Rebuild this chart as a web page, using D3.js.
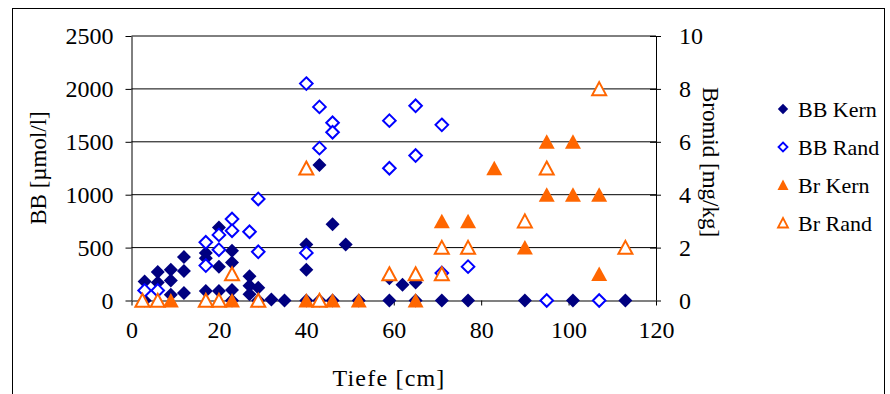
<!DOCTYPE html>
<html>
<head>
<meta charset="utf-8">
<script src="https://cdn.jsdelivr.net/npm/d3@7"></script>
<style>
  body { margin: 0; background: #fff; }
  svg text { font-family: "Liberation Serif", "Times New Roman", Times, serif; fill: #000; }
</style>
</head>
<body>
<div id="chart"></div>
<script>
// depth [cm] and values
var bbKernDepth = [3, 3, 6, 6, 9, 9, 9, 12, 12, 12, 17, 17, 17, 20, 20, 20, 23, 23, 23, 23, 27, 27, 27, 29, 29, 32, 35, 40, 40, 40, 43, 43, 46, 46, 49, 52, 59, 59, 62, 65, 65, 71, 77, 90, 101, 113];
var bbKernValue = [180, 0, 270, 170, 290, 190, 55, 410, 280, 70, 450, 400, 90, 690, 320, 90, 470, 360, 100, 0, 230, 140, 60, 120, 0, 10, 0, 530, 290, 0, 1280, 0, 720, 0, 530, 0, 210, 0, 150, 170, 0, 0, 0, 0, 0, 0];

var bbRandDepth = [3, 6, 17, 17, 20, 20, 23, 23, 27, 29, 29, 40, 40, 43, 43, 46, 46, 59, 59, 65, 65, 71, 71, 77, 95, 107];
var bbRandValue = [95, 95, 550, 330, 620, 480, 770, 660, 650, 960, 460, 2050, 450, 1830, 1440, 1680, 1590, 1700, 1250, 1840, 1370, 1660, 260, 320, 0, 0];

var brKernDepth = [9, 23, 40, 46, 52, 65, 71, 77, 83, 90, 95, 95, 101, 101, 107, 107];
var brKernValue = [0, 0, 0, 0, 0, 0, 3, 3, 5, 2, 6, 4, 6, 4, 4, 1];

var brRandDepth = [2.5, 6, 17, 20, 23, 29, 40, 43, 59, 65, 71, 71, 77, 90, 95, 107, 113];
var brRandValue = [0, 0, 0, 0, 1, 0, 5, 0, 1, 1, 2, 1, 2, 3, 5, 8, 2];

var xTicks = [0, 20, 40, 60, 80, 100, 120];
var leftTicks = [0, 500, 1000, 1500, 2000, 2500];
var rightTicks = [0, 2, 4, 6, 8, 10];

var fontFamily = '"Liberation Serif", "Times New Roman", Times, serif';

var svgWidth = 890, svgHeight = 394;
var margin = { top: 36, bottom: 93.5, left: 131.5, right: 234 };
var chartWidth = svgWidth - margin.left - margin.right;
var chartHeight = svgHeight - margin.top - margin.bottom;

var svg = d3.select("#chart").append("svg")
    .attr("width", svgWidth)
    .attr("height", svgHeight)
    .attr("font-family", fontFamily);

// outer frame
svg.append("rect")
    .attr("x", 12.5).attr("y", 8.5)
    .attr("width", 872).attr("height", 400)
    .attr("fill", "#fff").attr("stroke", "#000").attr("stroke-width", 1);

var chartGroup = svg.append("g")
    .attr("transform", `translate(${margin.left}, ${margin.top})`);

var xScale = d3.scaleLinear().domain([0, 120]).range([0, chartWidth]);
var yLeft = d3.scaleLinear().domain([0, 2500]).range([chartHeight, 0]);
var yRight = d3.scaleLinear().domain([0, 10]).range([chartHeight, 0]);

// gridlines
chartGroup.selectAll(".grid")
    .data(leftTicks.filter(d => d > 0))
    .enter().append("line")
    .attr("x1", 0).attr("x2", chartWidth)
    .attr("y1", d => yLeft(d)).attr("y2", d => yLeft(d))
    .attr("stroke", "#000").attr("stroke-width", 1);

function styleAxis(g) {
    g.attr("font-family", fontFamily).attr("font-size", 24);
    g.select(".domain").attr("stroke", "#000");
    g.selectAll("text").attr("fill", "#000");
}

// left axis
var leftAxis = chartGroup.append("g")
    .call(d3.axisLeft(yLeft).tickValues(leftTicks).tickFormat(d3.format("d"))
        .tickSize(6).tickSizeOuter(0).tickPadding(12))
    .call(styleAxis);

// right axis
var rightAxis = chartGroup.append("g")
    .attr("transform", `translate(${chartWidth}, 0)`)
    .call(d3.axisRight(yRight).tickValues(rightTicks).tickFormat(d3.format("d"))
        .tickSize(5).tickSizeOuter(0).tickPadding(18))
    .call(styleAxis);
rightAxis.selectAll(".tick line").attr("x1", -6);

// bottom axis
var bottomAxis = chartGroup.append("g")
    .attr("transform", `translate(0, ${chartHeight})`)
    .call(d3.axisBottom(xScale).tickValues(xTicks).tickFormat(d3.format("d"))
        .tickSize(5).tickSizeOuter(0).tickPadding(15))
    .call(styleAxis);
bottomAxis.select(".domain").attr("stroke", "#808080").attr("stroke-width", 2);

// axis titles
chartGroup.append("text")
    .attr("transform", `translate(${38 - margin.left}, ${168 - margin.top}) rotate(-90)`)
    .attr("text-anchor", "middle")
    .attr("dy", "0.35em")
    .attr("font-size", 23)
    .text("BB [µmol/l]");

chartGroup.append("text")
    .attr("transform", `translate(${711 - margin.left}, ${162 - margin.top}) rotate(90)`)
    .attr("text-anchor", "middle")
    .attr("dy", "0.35em")
    .attr("font-size", 23)
    .text("Bromid [mg/kg]");

chartGroup.append("text")
    .attr("x", 389 - margin.left)
    .attr("y", 386 - margin.top)
    .attr("text-anchor", "middle")
    .attr("font-size", 24)
    .attr("letter-spacing", 1.2)
    .text("Tiefe [cm]");

// marker shapes
function diamond(r) { return `M0,${-r}L${r},0L0,${r}L${-r},0Z`; }
function triangle(w, h) { return `M0,${-h / 2 - 0.5}L${w / 2},${h / 2}L${-w / 2},${h / 2}Z`; }

var series = [
    { name: "BB Kern", depth: bbKernDepth, value: bbKernValue, y: yLeft, path: diamond(7), legendPath: diamond(5.2), fill: "#000080", stroke: "none" },
    { name: "BB Rand", depth: bbRandDepth, value: bbRandValue, y: yLeft, path: diamond(6.3), legendPath: diamond(4.5), fill: "#fff", stroke: "#0000ff" },
    { name: "Br Kern", depth: brKernDepth, value: brKernValue, y: yRight, path: triangle(16, 14), legendPath: triangle(11, 10), fill: "#ff6600", stroke: "none" },
    { name: "Br Rand", depth: brRandDepth, value: brRandValue, y: yRight, path: triangle(14, 12.5), legendPath: triangle(10, 9), fill: "#fff", stroke: "#ff6600" }
];

series.forEach(function(s) {
    chartGroup.append("g").selectAll("path")
        .data(s.depth.map((d, i) => [d, s.value[i]]))
        .enter().append("path")
        .attr("transform", d => `translate(${xScale(d[0])}, ${s.y(d[1])})`)
        .attr("d", s.path)
        .attr("fill", s.fill)
        .attr("stroke", s.stroke)
        .attr("stroke-width", 2);
});

// legend
var legend = svg.append("g").attr("transform", "translate(783, 109)");
series.forEach(function(s, i) {
    var row = legend.append("g").attr("transform", `translate(0, ${i * 38})`);
    row.append("path")
        .attr("d", s.legendPath)
        .attr("fill", s.fill)
        .attr("stroke", s.stroke)
        .attr("stroke-width", 1.8);
    row.append("text")
        .attr("x", 15)
        .attr("dy", "0.35em")
        .attr("font-size", 22)
        .text(s.name);
});
</script>
</body>
</html>
